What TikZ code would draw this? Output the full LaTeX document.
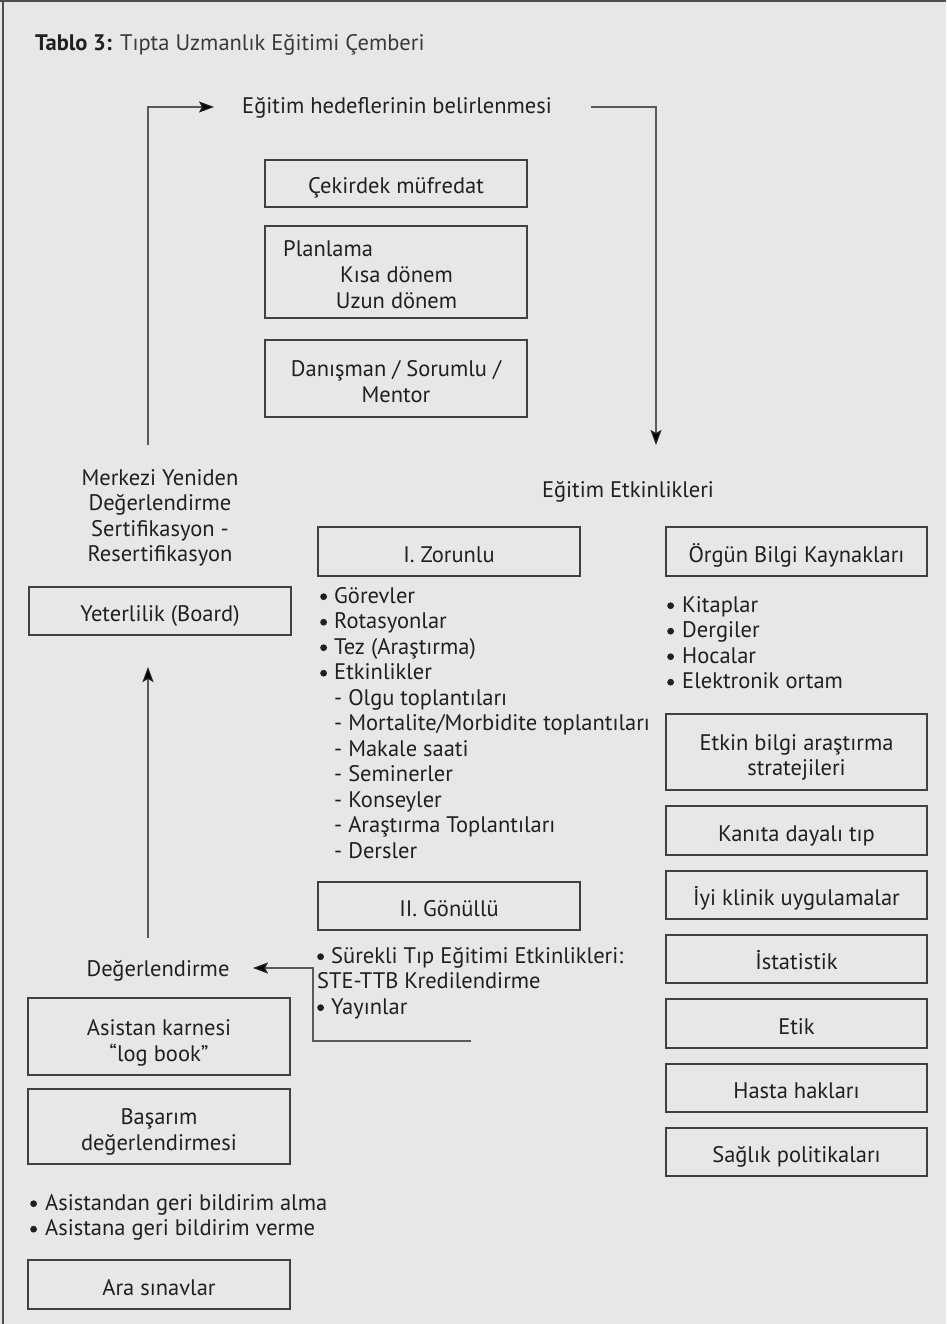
\documentclass[tikz,border=0pt]{standalone}
\usepackage{fontspec}
\setmainfont{PT Sans}
\usetikzlibrary{arrows.meta}
\definecolor{bg}{HTML}{E6E7E8}
\definecolor{ink}{HTML}{231F20}
\definecolor{titlegray}{HTML}{3A3A3C}
\definecolor{boxline}{HTML}{404041}
\definecolor{arrline}{HTML}{58595B}
\definecolor{framecol}{HTML}{4D4D4F}
\newcommand{\bdot}{\tikz[baseline=0pt]\fill[ink] (3.4pt,6.3pt) circle[radius=3.4pt];}
\newcommand{\bul}{\makebox[14pt][l]{\bdot}}
\newcommand{\bulr}{\makebox[15pt][l]{\bdot}}
\newcommand{\dsh}{\hspace*{14pt}}
\begin{document}
\begin{tikzpicture}[x=1pt,y=-1pt,
  every node/.style={text=ink, font=\fontsize{22.5}{25.5}\selectfont, inner sep=0pt},
  box/.style={draw=boxline, line width=1.3pt, minimum width=262pt, minimum height=48pt, text height=21pt, text depth=0pt, align=center},
  tbox/.style={draw=boxline, line width=1.3pt, minimum width=262pt},
  conn/.style={draw=arrline, line width=1.3pt},
  arr/.style={conn, -{Stealth[length=15pt,width=11pt,inset=3pt,color=ink]}},
]
\fill[bg] (0,0) rectangle (946,1324);
\useasboundingbox (0,0) rectangle (946,1324);
\draw[framecol, line width=2.5pt] (3,1324) -- (3,0);
\draw[framecol, line width=2pt] (0,1) -- (946,1);

% title
\node[anchor=base west] (title) at (35,51) {\textbf{Tablo 3:} {\color{titlegray}Tıpta Uzmanlık Eğitimi Çemberi}};

% top block
\node[anchor=base] (hed) at (397,114) {Eğitim hedeflerinin belirlenmesi};
\node[box, minimum height=47pt] (cek) at (396,183.5) {Çekirdek müfredat};
\node[tbox, minimum height=92pt] (plan) at (396,272) {};
\node[anchor=base west] (planA) at (283,257) {Planlama};
\node[anchor=base] (planB) at (396.5,282.5) {Kısa dönem};
\node[anchor=base] (planC) at (396.5,308) {Uzun dönem};
\node[tbox, minimum height=77pt] (dan) at (396,378.5) {};
\node[anchor=base] (danT) at (396,376.5) {\parbox[t]{250pt}{\centering Danışman / Sorumlu /\\ Mentor}};

% left column
\node[anchor=base] (merk) at (160,485) {\parbox[t]{250pt}{\centering Merkezi Yeniden\\ Değerlendirme\\ Sertifikasyon -\\ Resertifikasyon}};
\node[box] (yet) at (160,611) {Yeterlilik (Board)};
\node[anchor=base] (deg) at (158,976) {Değerlendirme};
\node[tbox, minimum height=77pt] (asis) at (159,1036.5) {};
\node[anchor=base] (asisT) at (159,1035.5) {\parbox[t]{250pt}{\centering Asistan karnesi\\ “log book”}};
\node[tbox, minimum height=75pt] (bas) at (159,1126.5) {};
\node[anchor=base] (basT) at (159,1124.5) {\parbox[t]{250pt}{\centering Başarım\\ değerlendirmesi}};
\node[anchor=base west] (geri) at (30,1210) {\parbox[t]{330pt}{\bulr Asistandan geri bildirim alma\\ \bulr Asistana geri bildirim verme}};
\node[box, minimum height=49pt] (ara) at (159,1284.5) {Ara sınavlar};

% middle column
\node[anchor=base] (etk) at (628,497) {Eğitim Etkinlikleri};
\node[box, minimum height=49pt] (zor) at (449,551.5) {I. Zorunlu};
\node[anchor=base west] (zorL) at (320,603) {\parbox[t]{360pt}{\bul Görevler\\ \bul Rotasyonlar\\ \bul Tez (Araştırma)\\ \bul Etkinlikler\\
 \dsh- Olgu toplantıları\\ \dsh- Mortalite/Morbidite toplantıları\\ \dsh- Makale saati\\ \dsh- Seminerler\\ \dsh- Konseyler\\ \dsh- Araştırma Toplantıları\\ \dsh- Dersler}};
\node[box] (gon) at (449,906) {II. Gönüllü};
\node[anchor=base west] (gonL) at (317,963) {\parbox[t]{360pt}{\bul Sürekli Tıp Eğitimi Etkinlikleri:\\ STE-TTB Kredilendirme\\ \bul Yayınlar}};

% right column
\node[box, minimum width=261pt, minimum height=49pt] (org) at (796.5,551.5) {Örgün Bilgi Kaynakları};
\node[anchor=base west] (orgL) at (667,612) {\parbox[t]{260pt}{\bulr Kitaplar\\ \bulr Dergiler\\ \bulr Hocalar\\ \bulr Elektronik ortam}};
\node[tbox, minimum width=261pt, minimum height=76pt] (etkin) at (796.5,752) {};
\node[anchor=base] (etkinT) at (796.5,750) {\parbox[t]{250pt}{\centering Etkin bilgi araştırma\\ stratejileri}};
\node[box, minimum width=261pt, minimum height=49pt] (kanit) at (796.5,830.5) {Kanıta dayalı tıp};
\node[box, minimum width=261pt] (iyi) at (796.5,895) {İyi klinik uygulamalar};
\node[box, minimum width=261pt] (ist) at (796.5,959) {İstatistik};
\node[box, minimum width=261pt, minimum height=49pt] (etik) at (796.5,1023.5) {Etik};
\node[box, minimum width=261pt] (hasta) at (796.5,1088) {Hasta hakları};
\node[box, minimum width=261pt] (saglik) at (796.5,1152) {Sağlık politikaları};

% connectors
\coordinate (a1s) at (148,445);
\coordinate (a1e) at (214,107);
\draw[arr] (a1s) |- (a1e);
\coordinate (a2s) at (591,107);
\coordinate (a2e) at (656,445);
\draw[arr] (a2s) -| (a2e);
\coordinate (a3s) at (148,938);
\coordinate (a3e) at (148,667);
\draw[arr] (a3s) -- (a3e);
\coordinate (a4s) at (471,1041);
\coordinate (a4k) at (313,1000);
\coordinate (a4e) at (253,968);
\draw[arr] (a4s) -| (a4k) |- (a4e);
\end{tikzpicture}
\end{document}
